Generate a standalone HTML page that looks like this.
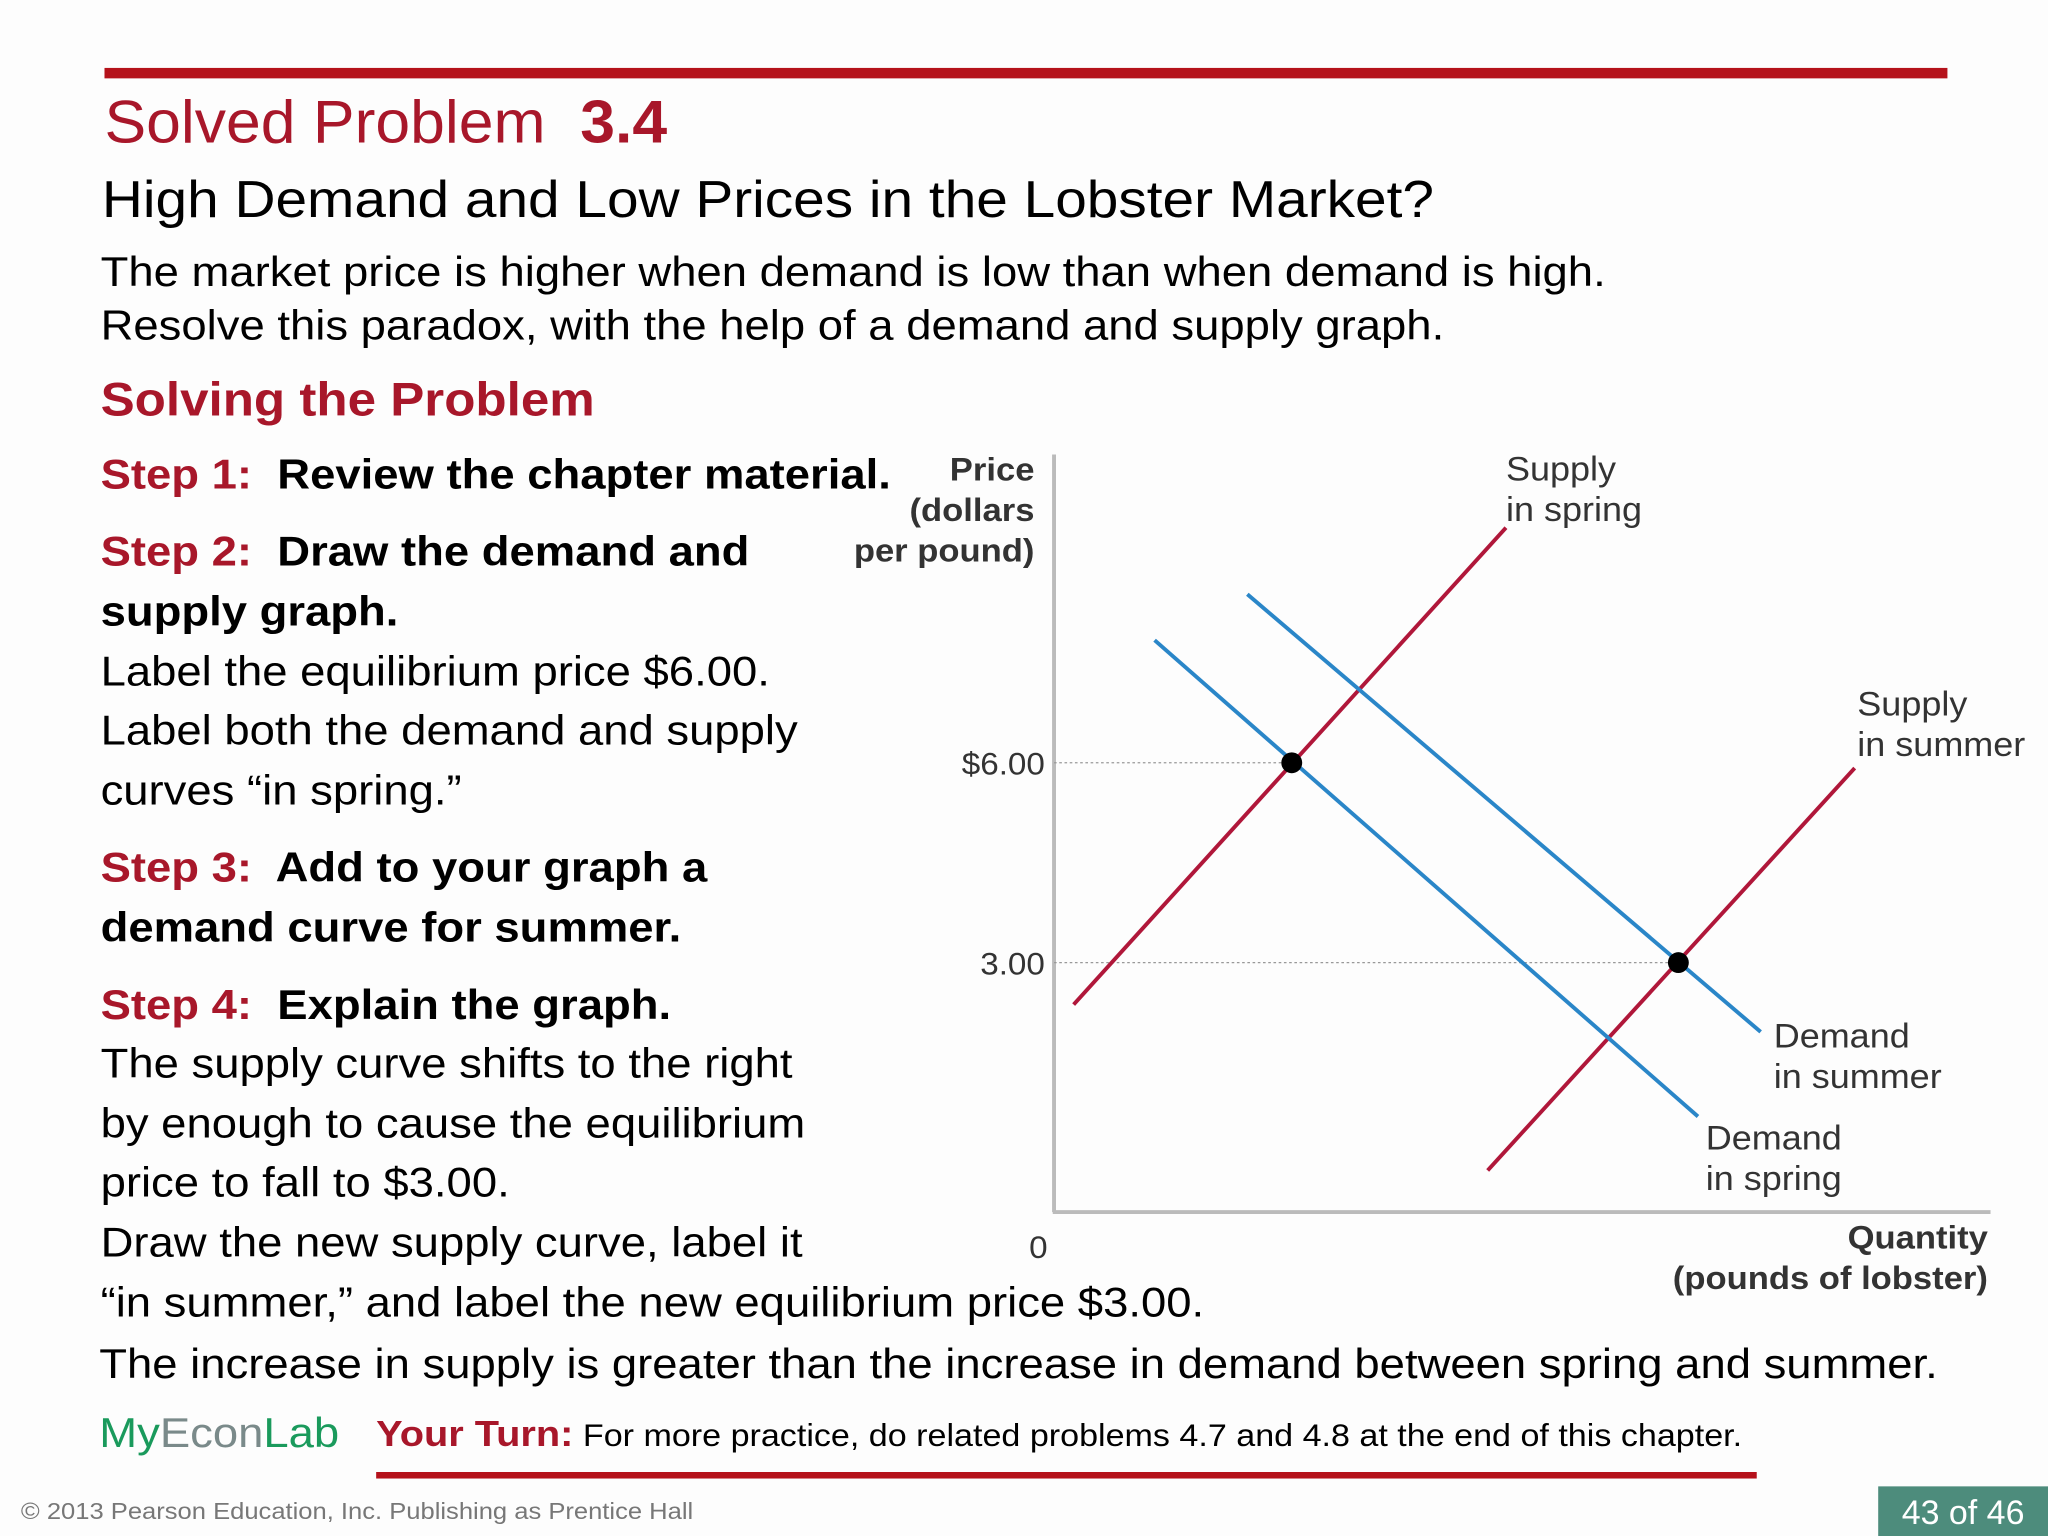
<!DOCTYPE html>
<html><head><meta charset="utf-8"><style>
html,body{margin:0;padding:0;background:#fff;}
#wrap{width:1568px;height:1176px;position:relative;transform:scale(1.306122);transform-origin:0 0;font-family:"Liberation Sans",Arial,sans-serif;background:#fdfdfd;overflow:hidden;}
.t{position:absolute;white-space:nowrap;margin:0;line-height:1;transform:scaleX(1.087);transform-origin:0 0;}
.red{color:#a8172a;}
.b{font-weight:bold;}
</style></head><body>
<div id="wrap">
<div style="position:absolute;left:80px;top:52px;width:1411px;height:8px;background:#b5121b"></div>
<div class="t red" style="left:80px;top:70px;font-size:46px;transform:scaleX(1.04)">Solved Problem&nbsp; <b>3.4</b></div>
<div class="t" style="left:78px;top:133px;font-size:40px">High Demand and Low Prices in the Lobster Market?</div>
<div class="t" style="left:77px;top:192px;font-size:32px">The market price is higher when demand is low than when demand is high.</div>
<div class="t" style="left:77px;top:233px;font-size:32px">Resolve this paradox, with the help of a demand and supply graph.</div>
<div class="t red b" style="left:77px;top:288px;font-size:36px">Solving the Problem</div>
<div class="t b" style="left:77px;top:347px;font-size:32px"><span class="red">Step 1:</span>&nbsp; Review the chapter material.</div>
<div class="t b" style="left:77px;top:406px;font-size:32px"><span class="red">Step 2:</span>&nbsp; Draw the demand and</div>
<div class="t b" style="left:77px;top:452px;font-size:32px">supply graph.</div>
<div class="t" style="left:77px;top:498px;font-size:32px">Label the equilibrium price $6.00.</div>
<div class="t" style="left:77px;top:543px;font-size:32px">Label both the demand and supply</div>
<div class="t" style="left:77px;top:589px;font-size:32px">curves “in spring.”</div>
<div class="t b" style="left:77px;top:648px;font-size:32px"><span class="red">Step 3:</span>&nbsp; Add to your graph a</div>
<div class="t b" style="left:77px;top:694px;font-size:32px">demand curve for summer.</div>
<div class="t b" style="left:77px;top:753px;font-size:32px"><span class="red">Step 4:</span>&nbsp; Explain the graph.</div>
<div class="t" style="left:77px;top:798px;font-size:32px">The supply curve shifts to the right</div>
<div class="t" style="left:77px;top:844px;font-size:32px">by enough to cause the equilibrium</div>
<div class="t" style="left:77px;top:889px;font-size:32px">price to fall to $3.00.</div>
<div class="t" style="left:77px;top:935px;font-size:32px">Draw the new supply curve, label it</div>
<div class="t" style="left:77px;top:981px;font-size:32px">“in summer,” and label the new equilibrium price $3.00.</div>
<div class="t" style="left:76px;top:1028px;font-size:32px">The increase in supply is greater than the increase in demand between spring and summer.</div>
<div class="t" style="left:76px;top:1081px;font-size:32px;color:#1a9a5c">My<span style="color:#7a8a8a">Econ</span>Lab</div>
<div class="t" style="left:288px;top:1084px;font-size:24px"><b class="red" style="font-size:28px">Your Turn:</b> For more practice, do related problems 4.7 and 4.8 at the end of this chapter.</div>
<div style="position:absolute;left:288px;top:1127px;width:1057px;height:5px;background:#b5121b"></div>
<div class="t" style="left:16px;top:1148px;font-size:18px;color:#777">© 2013 Pearson Education, Inc. Publishing as Prentice Hall</div>
<div style="position:absolute;left:1438px;top:1138px;width:130px;height:38px;background:#4d8c7c;color:#fff;font-size:26px;line-height:40px;text-align:center">43 of 46</div>

<svg id="chart" style="position:absolute;left:0;top:0" width="1568" height="1176" font-family="Liberation Sans, Arial, sans-serif"></svg>
</div>
<script>
const priceTicks=[6,3];
const tickLabels=["$6.00","3.00"];
const supplySpring=[[1.5,2.37],[34.6,9.53]];
const supplySummer=[[33.2,-0.12],[61.3,5.92]];
const demandSpring=[[7.7,7.84],[49.3,0.69]];
const demandSummer=[[14.8,8.53],[54.1,1.96]];
const equilibria=[[18.2,6],[47.8,3]];
const X=q=>807+q*10, Y=p=>890-p*51;
const svg=document.getElementById('chart'),NS='http://www.w3.org/2000/svg';
function mk(tag,attrs,parent){const e=document.createElementNS(NS,tag);for(const k in attrs)e.setAttribute(k,attrs[k]);(parent||svg).appendChild(e);return e;}
const sx=(x,y)=>'translate('+x+','+y+') scale(1.06,1) translate('+(-x)+','+(-y)+')';
let e;
e=mk('line',{x1:807,y1:348,x2:807,y2:928,stroke:'#bbb','stroke-width':3});


e=mk('line',{x1:806,y1:928,x2:1524,y2:928,stroke:'#bbb','stroke-width':3});


priceTicks.forEach((p,i)=>{
 const eq=equilibria[i];
 e=mk('line',{x1:807,y1:Y(p),x2:X(eq[0]),y2:Y(p),stroke:'#999','stroke-width':1,'stroke-dasharray':'2,2'});
 
 
 e=mk('text',{x:800,y:Y(p)+9,'text-anchor':'end','font-size':24,fill:'#333',transform:sx(800,Y(p))});e.textContent=tickLabels[i];
 
 
});
function curve(pts,color,name){e=mk('line',{x1:X(pts[0][0]),y1:Y(pts[0][1]),x2:X(pts[1][0]),y2:Y(pts[1][1]),stroke:color,'stroke-width':3});
 
 }
curve(supplySpring,'#b0173a','supply-spring-curve');
curve(supplySummer,'#b0173a','supply-summer-curve');
curve(demandSpring,'#2a86c8','demand-spring-curve');
curve(demandSummer,'#2a86c8','demand-summer-curve');
equilibria.forEach(q=>{e=mk('circle',{cx:X(q[0]),cy:Y(q[1]),r:8,fill:'#000'});
 
 });
function txt(x,y,s,lines,anchor,bold,name){e=mk('text',{x:x,y:y,'font-size':s,fill:'#333','text-anchor':anchor,'font-weight':bold?'bold':'normal',transform:sx(x,y)});
 lines.forEach((l,i)=>{const t=mk('tspan',{x:x,dy:i?31:0},e);t.textContent=l;});
 
 }
txt(792,368,25,['Price','(dollars','per pound)'],'end',true,'y-axis-title');
txt(1522,956,25,['Quantity','(pounds of lobster)'],'end',true,'x-axis-title');
txt(795,963,24,['0'],'middle',false,'origin-label');
txt(1153,368,26,['Supply','in spring'],'start',false,'supply-spring-label');
txt(1422,548,26,['Supply','in summer'],'start',false,'supply-summer-label');
txt(1358,802,26,['Demand','in summer'],'start',false,'demand-summer-label');
txt(1306,880,26,['Demand','in spring'],'start',false,'demand-spring-label');
</script>
</body></html>
